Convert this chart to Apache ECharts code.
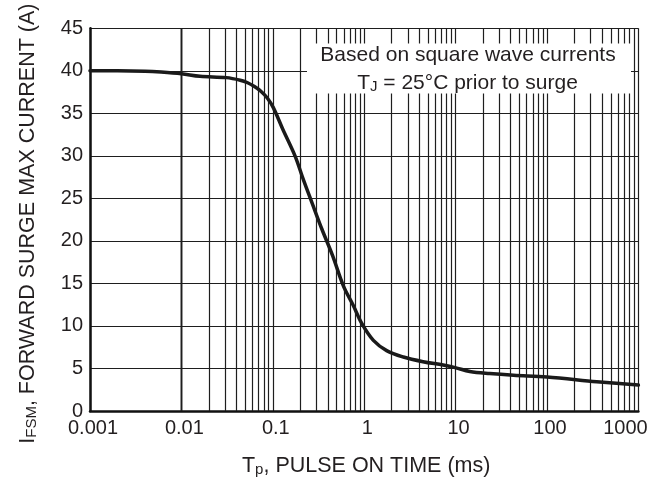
<!DOCTYPE html>
<html>
<head>
<meta charset="utf-8">
<script src="https://cdn.jsdelivr.net/npm/echarts@6/dist/echarts.min.js"></script>
<style>
html,body{margin:0;padding:0;background:#fff;}
#chart{width:661px;height:482px;}
</style>
</head>
<body>
<div id="chart"></div>
<script>
// Pulse on time (ms)
var pulseTime = [0.001, 0.002, 0.004, 0.006, 0.01, 0.016, 0.031, 0.044, 0.053, 0.063, 0.074, 0.087, 0.101, 0.129, 0.175, 0.216, 0.268, 0.344, 0.45, 0.59, 0.76, 0.94, 1.26, 1.76, 2.68, 4.4, 7.3, 9.9, 14.3, 23.6, 43, 100, 350, 1000];
// Forward surge max current (A)
var surgeCurrent = [40.0, 40.0, 39.95, 39.85, 39.65, 39.35, 39.2, 38.9, 38.6, 38.15, 37.6, 36.8, 35.7, 33.1, 30.0, 27.2, 24.5, 21.4, 18.3, 14.75, 12.4, 10.3, 8.3, 7.1, 6.35, 5.8, 5.4, 5.1, 4.65, 4.4, 4.2, 4.0, 3.45, 3.05];
// Axis tick labels
var xTickLabels = ['0.001', '0.01', '0.1', '1', '10', '100', '1000'];
var yTickLabels = ['0', '5', '10', '15', '20', '25', '30', '35', '40', '45'];
// Log-paper minor grid: decades and multipliers
var decades = [0.001, 0.01, 0.1, 1, 10, 100];
var minorSteps = [2, 3, 4, 5, 6, 7, 8, 9];

var FONT = '"Liberation Sans", Arial, Helvetica, sans-serif';
var TXT = '#231f20';
var GRID = '#1e1e1e';
var GW = 1.2;

var minorLines = [];
decades.forEach(function (d) {
  minorSteps.forEach(function (k) {
    minorLines.push({ xAxis: parseFloat((k * d).toPrecision(3)) });
  });
});

var seriesData = pulseTime.map(function (t, i) { return [t, surgeCurrent[i]]; });

var chart = echarts.init(document.getElementById('chart'), null, { renderer: 'canvas' });
chart.setOption({
  animation: false,
  backgroundColor: '#ffffff',
  grid: { left: 90, right: 22.6, top: 28.3, bottom: 69.3, containLabel: false },
  xAxis: {
    type: 'log',
    logBase: 10,
    min: 0.001,
    max: 1000,
    name: '{a|T}{s|p}{a|, PULSE ON TIME (ms)}',
    nameLocation: 'middle',
    nameGap: 41,
    nameTextStyle: {
      padding: [0, 0, 0, 4],
      rich: {
        a: { fontFamily: FONT, fontSize: 21.5, color: TXT, lineHeight: 25, verticalAlign: 'bottom' },
        s: { fontFamily: FONT, fontSize: 15, color: TXT, lineHeight: 12, verticalAlign: 'bottom' }
      }
    },
    axisLine: { show: true, onZero: false, lineStyle: { color: '#111', width: 2.5 } },
    axisTick: { show: false },
    axisLabel: {
      margin: 7,
      fontFamily: FONT,
      fontSize: 20,
      color: TXT,
      formatter: function (v, i) {
        var s = xTickLabels[i] !== undefined ? xTickLabels[i] : String(v);
        return i === xTickLabels.length - 1 ? '{r|' + s + '}' : '{n|' + s + '}';
      },
      rich: {
        n: { fontFamily: FONT, fontSize: 20, color: TXT, padding: [0, 0, 0, 6] },
        r: { fontFamily: FONT, fontSize: 20, color: TXT, padding: [0, 26, 0, 0] }
      }
    },
    splitLine: { show: true, lineStyle: { color: GRID, width: GW } },
    minorTick: { show: false },
    minorSplitLine: { show: false }
  },
  yAxis: {
    type: 'value',
    min: 0,
    max: 45,
    interval: 5,
    name: '{a|I}{s|FSM}{a|, FORWARD SURGE MAX CURRENT (A)}',
    nameLocation: 'middle',
    nameRotate: 90,
    nameGap: 51,
    nameTextStyle: {
      padding: [0, 8, 0, 0],
      rich: {
        a: { fontFamily: FONT, fontSize: 21.5, color: TXT, lineHeight: 25, verticalAlign: 'bottom' },
        s: { fontFamily: FONT, fontSize: 15, color: TXT, lineHeight: 12, verticalAlign: 'bottom' }
      }
    },
    axisLine: { show: true, onZero: false, lineStyle: { color: '#111', width: 2.5 } },
    axisTick: { show: false },
    axisLabel: {
      margin: 7,
      fontFamily: FONT,
      fontSize: 20,
      color: TXT,
      formatter: function (v, i) { return yTickLabels[i] !== undefined ? yTickLabels[i] : String(v); }
    },
    splitLine: { show: true, lineStyle: { color: GRID, width: GW } }
  },
  series: [
    {
      type: 'line',
      name: 'grid',
      data: seriesData,
      showSymbol: false,
      silent: true,
      z: 1,
      lineStyle: { opacity: 0 },
      markLine: {
        silent: true,
        symbol: ['none', 'none'],
        label: { show: false },
        lineStyle: { color: GRID, width: GW, type: 'solid' },
        emphasis: { disabled: true },
        data: minorLines
      }
    },
    {
      type: 'line',
      name: 'IFSM',
      data: seriesData,
      smooth: 0.35,
      showSymbol: false,
      silent: true,
      z: 5,
      lineStyle: { color: '#1a1a1a', width: 3.5, cap: 'round', join: 'round' }
    }
  ],
  graphic: [
    {
      type: 'rect',
      z: 100,
      shape: { x: 307, y: 43.5, width: 324, height: 50 },
      style: { fill: '#ffffff' }
    },
    {
      type: 'text',
      z: 101,
      style: {
        x: 468, y: 55.5,
        text: 'Based on square wave currents',
        fontFamily: FONT, fontSize: 21, fill: TXT,
        textAlign: 'center', textVerticalAlign: 'middle'
      }
    },
    {
      type: 'text',
      z: 101,
      style: {
        x: 467.5, y: 82,
        text: '{a|T}{s|J}{a| = 25°C prior to surge}',
        textAlign: 'center', textVerticalAlign: 'middle',
        rich: {
          a: { fontFamily: FONT, fontSize: 21, fill: TXT, lineHeight: 24, verticalAlign: 'bottom' },
          s: { fontFamily: FONT, fontSize: 15, fill: TXT, lineHeight: 12, verticalAlign: 'bottom' }
        }
      }
    }
  ]
});
</script>
</body>
</html>
